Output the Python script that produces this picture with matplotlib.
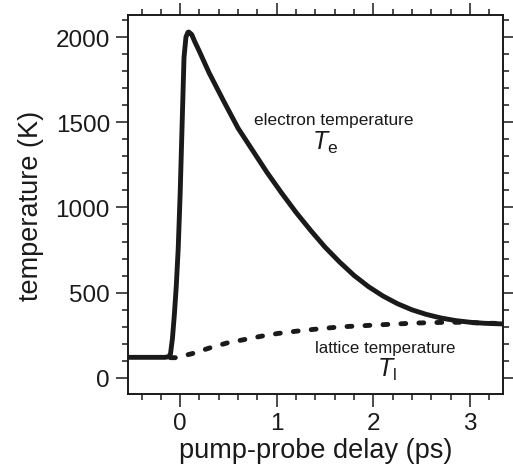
import matplotlib
matplotlib.use('Agg')
import matplotlib.pyplot as plt
from matplotlib.ticker import MultipleLocator

plt.rcParams['font.family'] = ['Liberation Sans', 'DejaVu Sans']
plt.rcParams['mathtext.fontset'] = 'custom'
plt.rcParams['mathtext.rm'] = 'Liberation Sans'
plt.rcParams['mathtext.it'] = 'Liberation Sans:italic'

# electron temperature
te_delay = [-0.54, -0.16, -0.12, -0.10, -0.08, -0.06, -0.04, -0.02, 0.00, 0.02,
            0.04, 0.06, 0.08, 0.09, 0.12, 0.15, 0.20, 0.30, 0.45, 0.60,
            0.75, 0.90, 1.05, 1.20, 1.35, 1.50, 1.65, 1.80, 1.95, 2.10,
            2.25, 2.40, 2.55, 2.70, 2.85, 3.00, 3.15, 3.34]
te_temp = [120, 120, 123, 140, 230, 370, 540, 760, 1080, 1480,
           1880, 2000, 2028, 2030, 2015, 1975, 1915, 1790, 1625, 1465,
           1335, 1205, 1085, 971, 866, 767, 680, 601, 535, 480,
           435, 399, 372, 351, 336, 326, 320, 316]

# lattice temperature
tl_delay = [-0.10, -0.05, 0.12, 0.31, 0.49, 0.67, 0.85, 1.01, 1.24, 1.45,
            1.66, 1.87, 2.07, 2.28, 2.48, 2.70, 2.90, 3.10, 3.34]
tl_temp = [118, 118, 141, 176, 205, 225, 245, 260, 276, 288,
           299, 305, 311, 317, 322, 325, 326, 322, 318]

fig = plt.figure(figsize=(5.13, 4.77), dpi=100)
ax = fig.add_axes([0.2495, 0.172, 0.7305, 0.7945])

ax.plot(te_delay, te_temp, color='#1a1a1a', lw=3.5, solid_capstyle='round',
        solid_joinstyle='round', zorder=3)
ax.plot(tl_delay, tl_temp, color='#1a1a1a', lw=3.5, linestyle=(0, (1.0, 2.7)),
        dash_capstyle='round', zorder=2)

ax.set_xlim(-0.54, 3.34)
ax.set_ylim(-95, 2130)

ax.xaxis.set_major_locator(MultipleLocator(1))
ax.xaxis.set_minor_locator(MultipleLocator(0.2))
ax.yaxis.set_major_locator(MultipleLocator(500))
ax.yaxis.set_minor_locator(MultipleLocator(100))

ax.tick_params(which='both', direction='out', top=True, right=True,
               width=1.1, color='#1a1a1a', labelsize=17.5, labelcolor='#1a1a1a')
ax.tick_params(which='major', length=9, pad=4)
ax.tick_params(which='minor', length=4.5)
for s in ax.spines.values():
    s.set_linewidth(1.4)
    s.set_color('#1a1a1a')

ax.set_xlabel('pump-probe delay (ps)', fontsize=19.5, color='#1a1a1a', labelpad=2)
ax.set_ylabel('temperature (K)', fontsize=19.5, color='#1a1a1a', labelpad=8)

ax.text(1.59, 1490, 'electron temperature', fontsize=12.4, ha='center',
        va='baseline', color='#1a1a1a')
ax.text(1.37, 1343, r'$T_\mathrm{e}$', fontsize=18, ha='left',
        va='baseline', color='#1a1a1a')
ax.text(2.12, 152, 'lattice temperature', fontsize=12.2, ha='center',
        va='baseline', color='#1a1a1a')
ax.text(2.04, 12, r'$T_\mathrm{l}$', fontsize=18, ha='left',
        va='baseline', color='#1a1a1a')

fig.savefig('out.png', dpi=100)
